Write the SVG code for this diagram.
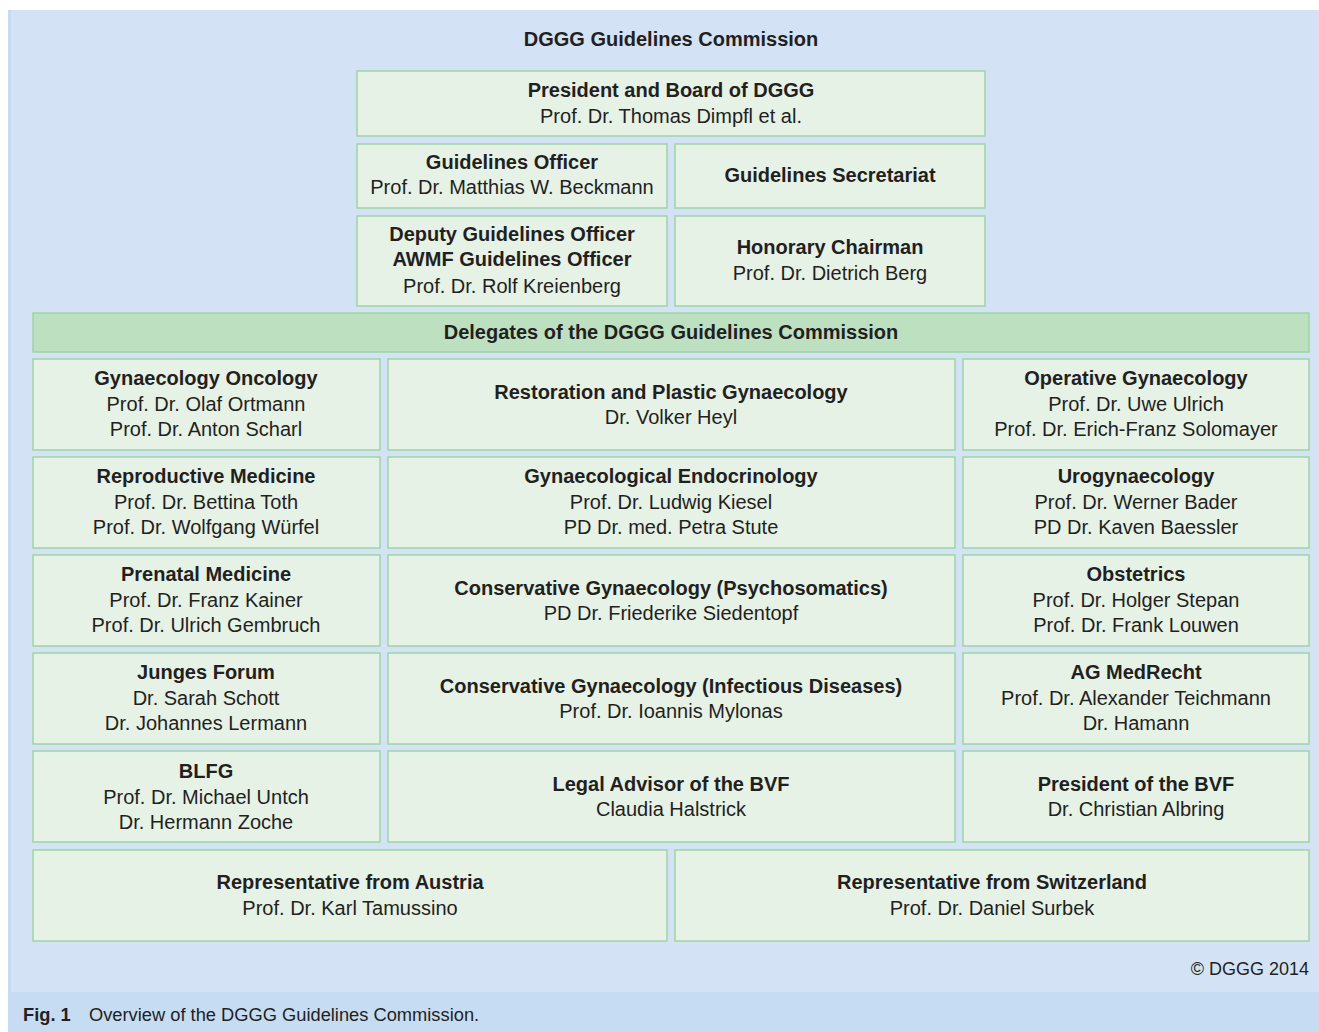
<svg xmlns="http://www.w3.org/2000/svg" width="1319" height="1032" viewBox="0 0 1319 1032">
<style>
.bg{fill:#d3e3f5}
.box{fill:#e6f2e6;stroke:#9fd5a2;stroke-width:1.5}
.bar{fill:#bde0c0;stroke:#9fd5a2;stroke-width:1.5}
text{font-family:"Liberation Sans",Arial,sans-serif;font-size:20px;fill:#231f20;text-anchor:middle}
.b{font-weight:bold}
.cap{font-size:18.3px;text-anchor:start}
</style>
<rect x="0" y="0" width="1319" height="1032" fill="#ffffff"/>
<rect class="bg" x="8" y="10" width="1311" height="982"/>
<rect x="8" y="10" width="3" height="982" fill="#c6dcf3"/>
<rect x="8" y="992" width="1311" height="40" fill="#c6dcf3"/>
<text class="b" x="671" y="46">DGGG Guidelines Commission</text>

<g id="president"><rect class="box" x="357" y="71" width="628" height="65"/>
<text class="b" x="671" y="97">President and Board of DGGG</text><text x="671" y="123">Prof. Dr. Thomas Dimpfl et al.</text></g>
<g id="officer"><rect class="box" x="357" y="144" width="310" height="64"/>
<text class="b" x="512" y="169">Guidelines Officer</text><text x="512" y="194">Prof. Dr. Matthias W. Beckmann</text></g>
<g id="secretariat"><rect class="box" x="675" y="144" width="310" height="64"/>
<text class="b" x="830" y="182">Guidelines Secretariat</text></g>
<g id="deputy"><rect class="box" x="357" y="216" width="310" height="90"/>
<text class="b" x="512" y="241">Deputy Guidelines Officer</text><text class="b" x="512" y="266">AWMF Guidelines Officer</text><text x="512" y="293">Prof. Dr. Rolf Kreienberg</text></g>
<g id="honorary"><rect class="box" x="675" y="216" width="310" height="90"/>
<text class="b" x="830" y="254">Honorary Chairman</text><text x="830" y="280">Prof. Dr. Dietrich Berg</text></g>
<g id="delegates"><rect class="bar" x="33" y="313" width="1276" height="39"/>
<text class="b" x="671" y="339">Delegates of the DGGG Guidelines Commission</text></g>

<g id="onc"><rect class="box" x="33" y="359" width="347" height="91"/>
<text class="b" x="206" y="385">Gynaecology Oncology</text><text x="206" y="411">Prof. Dr. Olaf Ortmann</text><text x="206" y="436">Prof. Dr. Anton Scharl</text></g>
<g id="restoration"><rect class="box" x="388" y="359" width="567" height="91"/>
<text class="b" x="671" y="399">Restoration and Plastic Gynaecology</text><text x="671" y="424">Dr. Volker Heyl</text></g>
<g id="operative"><rect class="box" x="963" y="359" width="346" height="91"/>
<text class="b" x="1136" y="385">Operative Gynaecology</text><text x="1136" y="411">Prof. Dr. Uwe Ulrich</text><text x="1136" y="436">Prof. Dr. Erich-Franz Solomayer</text></g>

<g id="repro"><rect class="box" x="33" y="457" width="347" height="91"/>
<text class="b" x="206" y="483">Reproductive Medicine</text><text x="206" y="509">Prof. Dr. Bettina Toth</text><text x="206" y="534">Prof. Dr. Wolfgang Würfel</text></g>
<g id="endo"><rect class="box" x="388" y="457" width="567" height="91"/>
<text class="b" x="671" y="483">Gynaecological Endocrinology</text><text x="671" y="509">Prof. Dr. Ludwig Kiesel</text><text x="671" y="534">PD Dr. med. Petra Stute</text></g>
<g id="uro"><rect class="box" x="963" y="457" width="346" height="91"/>
<text class="b" x="1136" y="483">Urogynaecology</text><text x="1136" y="509">Prof. Dr. Werner Bader</text><text x="1136" y="534">PD Dr. Kaven Baessler</text></g>

<g id="prenatal"><rect class="box" x="33" y="555" width="347" height="91"/>
<text class="b" x="206" y="581">Prenatal Medicine</text><text x="206" y="607">Prof. Dr. Franz Kainer</text><text x="206" y="632">Prof. Dr. Ulrich Gembruch</text></g>
<g id="psycho"><rect class="box" x="388" y="555" width="567" height="91"/>
<text class="b" x="671" y="595">Conservative Gynaecology (Psychosomatics)</text><text x="671" y="620">PD Dr. Friederike Siedentopf</text></g>
<g id="obstetrics"><rect class="box" x="963" y="555" width="346" height="91"/>
<text class="b" x="1136" y="581">Obstetrics</text><text x="1136" y="607">Prof. Dr. Holger Stepan</text><text x="1136" y="632">Prof. Dr. Frank Louwen</text></g>

<g id="forum"><rect class="box" x="33" y="653" width="347" height="91"/>
<text class="b" x="206" y="679">Junges Forum</text><text x="206" y="705">Dr. Sarah Schott</text><text x="206" y="730">Dr. Johannes Lermann</text></g>
<g id="infect"><rect class="box" x="388" y="653" width="567" height="91"/>
<text class="b" x="671" y="693">Conservative Gynaecology (Infectious Diseases)</text><text x="671" y="718">Prof. Dr. Ioannis Mylonas</text></g>
<g id="medrecht"><rect class="box" x="963" y="653" width="346" height="91"/>
<text class="b" x="1136" y="679">AG MedRecht</text><text x="1136" y="705">Prof. Dr. Alexander Teichmann</text><text x="1136" y="730">Dr. Hamann</text></g>

<g id="blfg"><rect class="box" x="33" y="751" width="347" height="91"/>
<text class="b" x="206" y="778">BLFG</text><text x="206" y="804">Prof. Dr. Michael Untch</text><text x="206" y="829">Dr. Hermann Zoche</text></g>
<g id="legal"><rect class="box" x="388" y="751" width="567" height="91"/>
<text class="b" x="671" y="791">Legal Advisor of the BVF</text><text x="671" y="816">Claudia Halstrick</text></g>
<g id="bvf"><rect class="box" x="963" y="751" width="346" height="91"/>
<text class="b" x="1136" y="791">President of the BVF</text><text x="1136" y="816">Dr. Christian Albring</text></g>

<g id="austria"><rect class="box" x="33" y="850" width="634" height="91"/>
<text class="b" x="350" y="889">Representative from Austria</text><text x="350" y="915">Prof. Dr. Karl Tamussino</text></g>
<g id="switzerland"><rect class="box" x="675" y="850" width="634" height="91"/>
<text class="b" x="992" y="889">Representative from Switzerland</text><text x="992" y="915">Prof. Dr. Daniel Surbek</text></g>

<g id="connectors"></g>
<text x="1309" y="975" style="text-anchor:end;font-size:18px">© DGGG 2014</text>
<text class="cap b" x="23" y="1021">Fig. 1</text>
<text class="cap" x="89" y="1021">Overview of the DGGG Guidelines Commission.</text>
</svg>
